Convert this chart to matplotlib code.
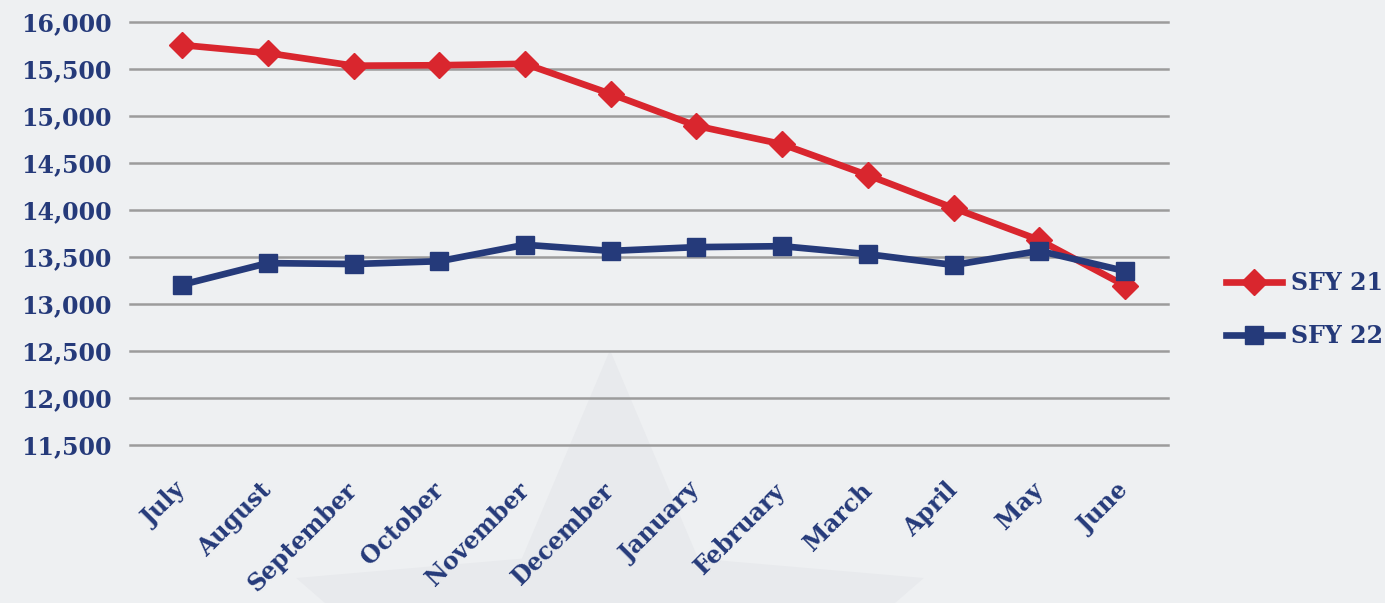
"""Monthly caseload line chart: SFY 21 vs SFY 22."""
import matplotlib
matplotlib.use("Agg")
import matplotlib.pyplot as plt
import numpy as np
from matplotlib.patches import Polygon
from matplotlib.transforms import IdentityTransform

months = ["July", "August", "September", "October", "November", "December",
          "January", "February", "March", "April", "May", "June"]
sfy21 = [15755, 15670, 15535, 15540, 15555, 15235,
         14895, 14700, 14370, 14020, 13680, 13195]
sfy22 = [13205, 13435, 13425, 13455, 13630, 13565,
         13605, 13615, 13530, 13415, 13565, 13350]
yticks = np.arange(11500, 16001, 500)

BG = "#eef0f2"
RED = "#d9262e"
NAVY = "#253a7a"
FONT = "DejaVu Serif"

fig = plt.figure(figsize=(13.85, 6.03), dpi=100, facecolor=BG)

# faint star watermark behind everything
cx, cy, R, r = 610, 680, 330, 150
pts = []
for i in range(10):
    ang = np.deg2rad(90 + 36 * i)
    rad = R if i % 2 == 0 else r
    pts.append((cx + rad * np.cos(ang), 603 - (cy - rad * np.sin(ang))))
star = Polygon(pts, closed=True, facecolor="#e8eaed", edgecolor="none",
               zorder=-5)
star.set_transform(IdentityTransform())
fig.patches.append(star)

ax = fig.add_axes([130 / 1385, 1 - 445 / 603, 1038 / 1385, 423 / 603])
ax.set_facecolor("none")

x = np.arange(len(months))
ax.plot(x, sfy21, color=RED, lw=4.8, marker="D", ms=13, label="SFY 21",
        zorder=3)
ax.plot(x, sfy22, color=NAVY, lw=4.8, marker="s", ms=13, label="SFY 22",
        zorder=3)

ax.set_xlim(-0.607, 11.5)
ax.set_ylim(11500, 16000)
ax.set_yticks(yticks)
ax.set_yticklabels([f"{v:,}" for v in yticks], fontfamily=FONT,
                   fontweight="bold", fontsize=17, color=NAVY)
ax.set_xticks(x)
ax.set_xticklabels(months, rotation=45, ha="right", va="center",
                   rotation_mode="anchor", fontfamily=FONT,
                   fontweight="bold", fontsize=17, color=NAVY)
ax.tick_params(axis="y", length=0, pad=13)
ax.tick_params(axis="x", length=0, pad=30)
ax.grid(axis="y", color="#9c9c9c", lw=1.8)
for gl in ax.yaxis.get_gridlines():
    gl.set_clip_on(False)
ax.set_axisbelow(True)
for s in ax.spines.values():
    s.set_visible(False)

leg = ax.legend(loc="center left", bbox_to_anchor=(1.035, 0.32), frameon=False,
                prop={"family": FONT, "weight": "bold", "size": 17},
                handlelength=2.4, labelspacing=1.25, handletextpad=0.35)
for t in leg.get_texts():
    t.set_color(NAVY)

fig.savefig("out.png", dpi=100, facecolor=BG)
